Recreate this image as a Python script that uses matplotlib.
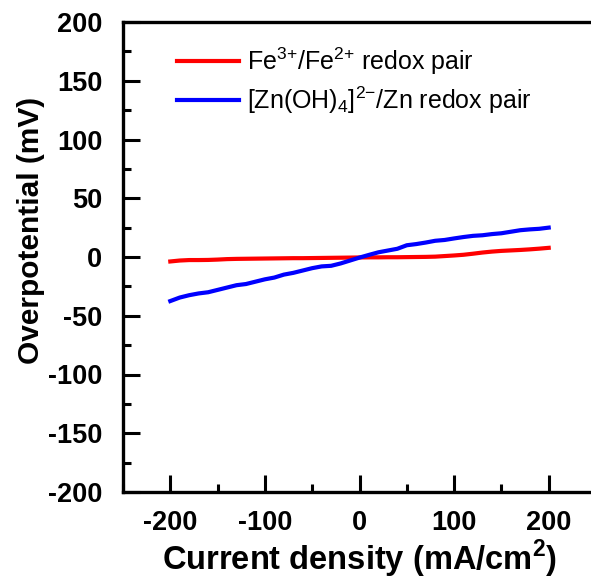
import numpy as np
import matplotlib.pyplot as plt
from matplotlib.ticker import MultipleLocator

plt.rcParams['font.family'] = ['Liberation Sans', 'DejaVu Sans']
plt.rcParams['mathtext.fontset'] = 'custom'
plt.rcParams['mathtext.rm'] = 'Liberation Sans'
plt.rcParams['mathtext.bf'] = 'Liberation Sans:bold'
plt.rcParams['axes.unicode_minus'] = False

# current density (mA/cm2)
current = [-200, -190, -180, -170, -160, -150, -140, -130, -120, -110, -100,
           -90, -80, -70, -60, -50, -40, -30, -20, -10, 0,
           10, 20, 30, 40, 50, 60, 70, 80, 90, 100,
           110, 120, 130, 140, 150, 160, 170, 180, 190, 200]

# overpotential (mV)
fe_pair = [-3.8, -3.0, -2.6, -2.6, -2.5, -2.2, -1.8, -1.6, -1.5, -1.4, -1.3,
           -1.2, -1.1, -1.0, -1.0, -0.9, -0.8, -0.7, -0.6, -0.5, -0.4,
           -0.3, -0.3, -0.2, -0.2, -0.1, 0.0, 0.1, 0.3, 0.8, 1.3,
           1.9, 2.8, 3.8, 4.6, 5.2, 5.6, 6.0, 6.5, 7.1, 7.8]
zn_pair = [-37.5, -34.5, -32.5, -31.0, -30.0, -28.0, -26.0, -24.0, -23.0, -21.0, -19.0,
           -17.5, -15.0, -13.5, -11.5, -9.5, -8.0, -7.5, -5.5, -3.0, -0.5,
           1.8, 4.0, 5.5, 7.0, 10.0, 11.0, 12.3, 13.8, 14.5, 15.8,
           17.0, 18.0, 18.5, 19.5, 20.2, 21.5, 22.8, 23.5, 24.0, 25.0]

fig = plt.figure(figsize=(5.91, 5.82), dpi=100)
ax = fig.add_axes([123 / 591, 1 - 492 / 582, 473 / 591, 470 / 582])

ax.plot(current, fe_pair, color='#ff0000', lw=3,
        label=r'Fe$^{3{+}}$/Fe$^{2{+}}$ redox pair')
ax.plot(current, zn_pair, color='#0000ff', lw=3,
        label=r'[Zn(OH)$_4$]$^{2{-}}$/Zn redox pair')

ax.set_xlim(-250, 250)
ax.set_ylim(-200, 200)
ax.xaxis.set_major_locator(MultipleLocator(100))
ax.xaxis.set_minor_locator(MultipleLocator(50))
ax.yaxis.set_major_locator(MultipleLocator(50))
ax.yaxis.set_minor_locator(MultipleLocator(25))

ax.tick_params(which='both', direction='in', width=2.2, labelsize=19.5)
ax.tick_params(axis='y', pad=15)
ax.tick_params(axis='x', pad=13)
ax.tick_params(which='major', length=12)
ax.tick_params(which='minor', length=6)
for lbl in ax.get_xticklabels() + ax.get_yticklabels():
    lbl.set_fontweight('bold')
for s in ax.spines.values():
    s.set_linewidth(2.4)
ax.spines['right'].set_visible(False)

ax.set_xlabel(r'Current density (mA/cm$^\mathbf{2}$)', fontsize=23.5, fontweight='bold', labelpad=1)
ax.set_ylabel('Overpotential (mV)', fontsize=21.5, fontweight='bold')
ax.yaxis.set_label_coords(-0.165, 0.557)

ax.legend(loc='upper left', bbox_to_anchor=(0.066, 0.998), frameon=False,
          fontsize=18, handlelength=2.5, handletextpad=0.3, labelspacing=0.3)

fig.savefig('out.png', dpi=100)
